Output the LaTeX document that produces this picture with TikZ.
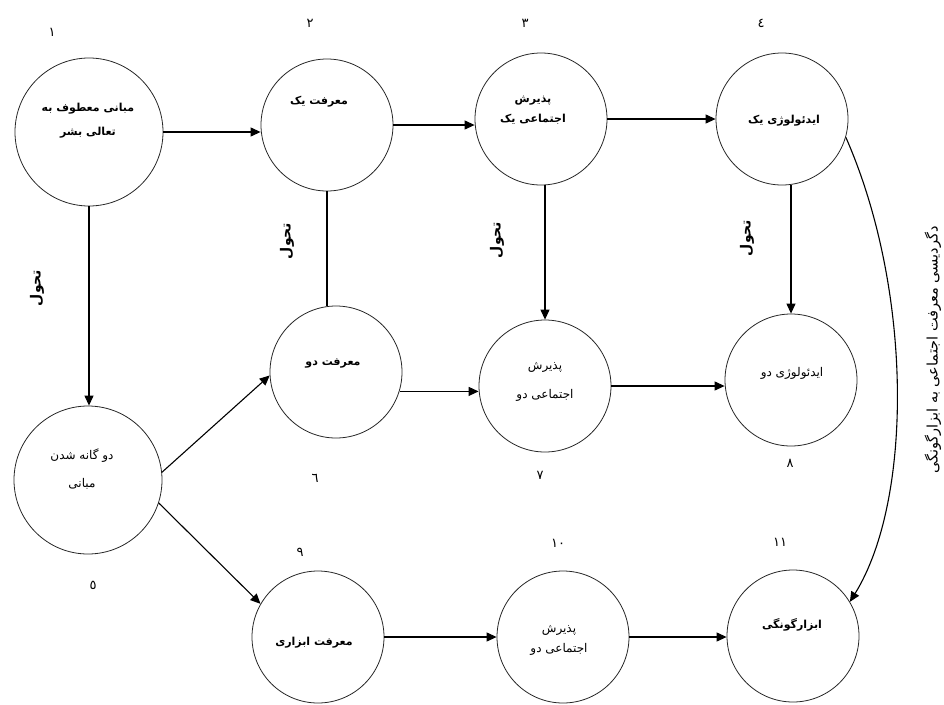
\documentclass[tikz,border=0pt]{standalone}
\usepackage{fontspec}
\newfontfamily\arabicfont[Script=Arabic]{DejaVu Sans}
\TeXXeTstate=1
\usetikzlibrary{arrows.meta,calc}
\begin{document}
\begin{tikzpicture}[x=1pt,y=-1pt,
  circ/.style={draw=black!85,line width=0.8pt,circle,inner sep=0pt},
  big/.style={circ,minimum size=148pt},
  small/.style={circ,minimum size=132pt},
  lbl/.style={font=\arabicfont\fontsize{12}{20}\selectfont,align=center,inner sep=0pt},
  lblb/.style={font=\arabicfont\bfseries\fontsize{11}{20}\selectfont,align=center,inner sep=0pt},
  vlbl/.style={font=\arabicfont\bfseries\fontsize{14}{16}\selectfont,inner sep=0pt,rotate=90},
  num/.style={font=\arabicfont\fontsize{13}{14}\selectfont,inner sep=0pt},
  conn/.style={line width=1.1pt},
  arr/.style={conn,-{Triangle[length=10pt,width=9pt]}},
]
\useasboundingbox (0,0) rectangle (944,704);
% circles
\node[big] (c1) at (89,132) {};
\node[small] (c2) at (327,125) {};
\node[small] (c3) at (541,119) {};
\node[small] (c4) at (782,119) {};
\node[big] (c5) at (88,480) {};
\node[small] (c6) at (336,372) {};
\node[small] (c7) at (545,386) {};
\node[small] (c8) at (791,380) {};
\node[small] (c9) at (318,637) {};
\node[small] (c10) at (563,637) {};
\node[small] (c11) at (793,636) {};
% texts
\node[lblb] (t1) at (88,121) {\beginR مبانی معطوف به\endR\\[4pt]\beginR تعالی بشر\endR};
\node[lblb] (t2) at (319,102) {\beginR معرفت یک\endR};
\node[lblb] (t3) at (533,110) {\beginR پذیرش\endR\\\beginR اجتماعی یک\endR};
\node[lblb] (t4) at (784,121) {\beginR ایدئولوژی یک\endR};
\node[lbl] (t5) at (82,469) {\beginR دو گانه شدن\endR\\[8pt]\beginR مبانی\endR};
\node[lblb] (t6) at (333,363) {\beginR معرفت دو\endR};
\node[lbl] (t7) at (545,382) {\beginR پذیرش\endR\\[9pt]\beginR اجتماعی دو\endR};
\node[lbl] (t8) at (792,373) {\beginR ایدئولوژی دو\endR};
\node[lblb] (t9) at (314,643) {\beginR معرفت ابزاری\endR};
\node[lbl] (t10) at (559,640) {\beginR پذیرش\endR\\\beginR اجتماعی دو\endR};
\node[lblb] (t11) at (792,625) {\beginR ابزارگونگی\endR};
% numbers
\node[num] (n1) at (52,32) {١};
\node[num] (n2) at (310,23) {٢};
\node[num] (n3) at (525,23) {٣};
\node[num] (n4) at (761,23) {٤};
\node[num] (n5) at (93,585) {٥};
\node[num] (n6) at (315,478) {٦};
\node[num] (n7) at (540,475) {٧};
\node[num] (n8) at (790,463) {٨};
\node[num] (n9) at (300,552) {٩};
\node[num] (n10) at (558,543) {١٠};
\node[num] (n11) at (780,542) {١١};
% transformation labels
\node[vlbl] (v1) at (37,288) {تحول};
\node[vlbl] (v2) at (287,241) {تحول};
\node[vlbl] (v3) at (497,240) {تحول};
\node[vlbl] (v4) at (747,238) {تحول};
\node[lbl,font=\arabicfont\fontsize{14.5}{16}\selectfont,rotate=90] (s) at (933,350) {\beginR دگردیسی معرفت اجتماعی به ابزارگونگی\endR};
% connectors
\draw[arr] (c1.east) -- (c1.east -| c2.west);
\draw[arr] (c2.east) -- (c2.east -| c3.west);
\draw[arr] (c3.east) -- (c3.east -| c4.west);
\draw[arr] (c1.south) -- (c1.south |- c5.north);
\draw[conn] (c2.south) -- (c2.south |- c6.north);
\draw[arr] (c7.north |- c3.south) -- (c7.north);
\draw[arr] (c8.north |- c4.south) -- (c8.north);
\draw[arr] (c5.6) -- (c6.183);
\draw[arr] (c5.-18) -- (c9.150);
\draw[arr] (c6.-17) -- (c6.-17 -| c7.west);
\draw[arr] (c7.east) -- (c7.east -| c8.west);
\draw[arr] (c9.east) -- (c9.east -| c10.west);
\draw[arr] (c10.east) -- (c10.east -| c11.west);
\draw[arr] (c4.-16) .. controls (913,290) and (913,500) .. (c11.31);
\end{tikzpicture}
\end{document}
